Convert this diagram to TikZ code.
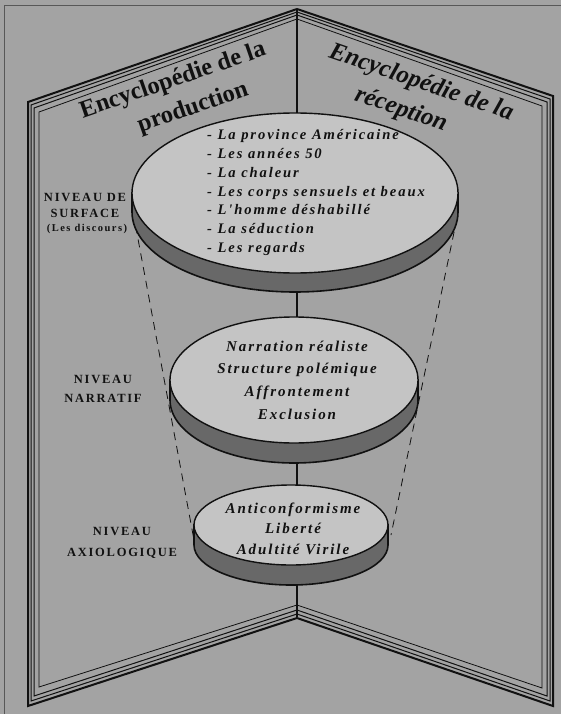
\documentclass[tikz,border=0pt]{standalone}
\usepackage{fontspec}
\setmainfont{Liberation Serif}
\newfontfamily\diskfnt[LetterSpace=13]{Liberation Serif}
\newfontfamily\labfnt[LetterSpace=14]{Liberation Serif}
\usetikzlibrary{shapes.geometric}
\definecolor{bgc}{HTML}{A3A3A3}
\definecolor{facec}{HTML}{C4C4C4}
\definecolor{bandc}{HTML}{686868}
\definecolor{inkc}{HTML}{111111}
\tikzset{
  pgouter/.style={draw=inkc,line width=2pt,line join=miter},
  pgmid/.style={draw=inkc,line width=1pt},
  pginner/.style={draw=inkc,line width=0.8pt},
  spineline/.style={draw=inkc,line width=2pt},
  funnel/.style={draw=inkc,line width=0.8pt,dash pattern=on 8pt off 6pt},
  bandstyle/.style={fill=bandc,draw=inkc,line width=1.6pt},
  facestyle/.style={ellipse,fill=facec,draw=inkc,line width=1.4pt,inner sep=0pt},
  disktext/.style={inner sep=0pt,text=inkc,font=\diskfnt\bfseries\itshape\fontsize{14.6}{18.8}\selectfont},
  leveltext/.style={inner sep=0pt,text=inkc,align=center,font=\labfnt\bfseries\fontsize{12.5}{16}\selectfont},
  titleL/.style={inner sep=0pt,text=inkc,font=\bfseries\fontsize{24.5}{28}\selectfont,rotate=19},
  titleR/.style={inner sep=0pt,text=inkc,font=\bfseries\itshape\fontsize{25}{28}\selectfont,rotate=-19},
}
\newcommand\diskband[5]{%
  \filldraw[bandstyle] ({#1-#3},#2) -- ({#1-#3},{#2+#5})
    arc[start angle=180,end angle=360,x radius=#3pt,y radius=#4pt]
    -- ({#1+#3},#2) -- cycle;}
\begin{document}
\begin{tikzpicture}[x=1pt,y=-1pt]
\fill[bgc] (0,0) rectangle (561,714);
\useasboundingbox (0,0) rectangle (561,714);
% scan frame
\draw[inkc!70,line width=0.7pt] (4,714) -- (4,5) -- (561,5);
% left page layers
\draw[pgouter] (297,9) -- (28,102) -- (28,706) -- (297,618);
\draw[pgmid] (297,12) -- (31,105) -- (31,701) -- (297,614);
\draw[pgmid] (297,15) -- (34,108) -- (34,696) -- (297,610);
\draw[pginner] (297,19) -- (39,112) -- (39,687) -- (297,605);
% right page layers
\draw[pgouter] (297,9) -- (553,96) -- (553,706) -- (297,618);
\draw[pgmid] (297,12) -- (550,99) -- (550,701) -- (297,614);
\draw[pgmid] (297,15) -- (547,102) -- (547,696) -- (297,610);
\draw[pginner] (297,19) -- (542,106) -- (542,688) -- (297,605);
% spine
\coordinate (apex) at (297,9);
\coordinate (foot) at (297,617);
\draw[spineline] (apex) -- (foot);
% funnel
\coordinate (fl1) at (133,212);
\coordinate (fl2) at (194,540);
\coordinate (fr1) at (457,218);
\coordinate (fr2) at (391,535);
\draw[funnel] (fl1) -- (fl2);
\draw[funnel] (fr1) -- (fr2);
% disks
\diskband{295}{193}{163}{80}{19}
\node[facestyle,minimum width=326pt,minimum height=160pt] (d1) at (295,193) {};
\diskband{294}{380}{124}{63}{20}
\node[facestyle,minimum width=248pt,minimum height=126pt] (d2) at (294,380) {};
\diskband{291}{525}{97}{40}{20}
\node[facestyle,minimum width=194pt,minimum height=80pt] (d3) at (291,525) {};
% disk texts
\node[disktext,anchor=west,align=left] (t1) at (207,192.5) {- La province Américaine\\- Les années 50\\- La chaleur\\- Les corps sensuels et beaux\\- L'homme déshabillé\\- La séduction\\- Les regards};
\node[disktext,align=center,font=\diskfnt\bfseries\itshape\fontsize{15}{22.7}\selectfont] (t2) at (297,380) {Narration réaliste\\Structure polémique\\Affrontement\\Exclusion};
\node[disktext,align=center,font=\diskfnt\bfseries\itshape\fontsize{15}{20.5}\selectfont] (t3) at (293,528.5) {Anticonformisme\\Liberté\\Adultité Virile};
% level labels
\node[leveltext] (l1a) at (85,197) {NIVEAU DE};
\node[leveltext] (l1b) at (85,213) {SURFACE};
\node[leveltext,font=\labfnt\bfseries\fontsize{10.5}{12}\selectfont] (l1c) at (87,228.5) {(Les discours)};
\node[leveltext] (l2) at (103,388.5) {NIVEAU\\[3pt]NARRATIF};
\node[leveltext] (l3) at (122,542.5) {NIVEAU\\[5pt]AXIOLOGIQUE};
% titles
\node[titleL] (tl1) at (173,81) {Encyclopédie de la};
\node[titleL] (tl2) at (193,108) {production};
\node[titleR] (tr1) at (421,83) {Encyclopédie de la};
\node[titleR] (tr2) at (401,110) {réception};
\end{tikzpicture}
\end{document}
